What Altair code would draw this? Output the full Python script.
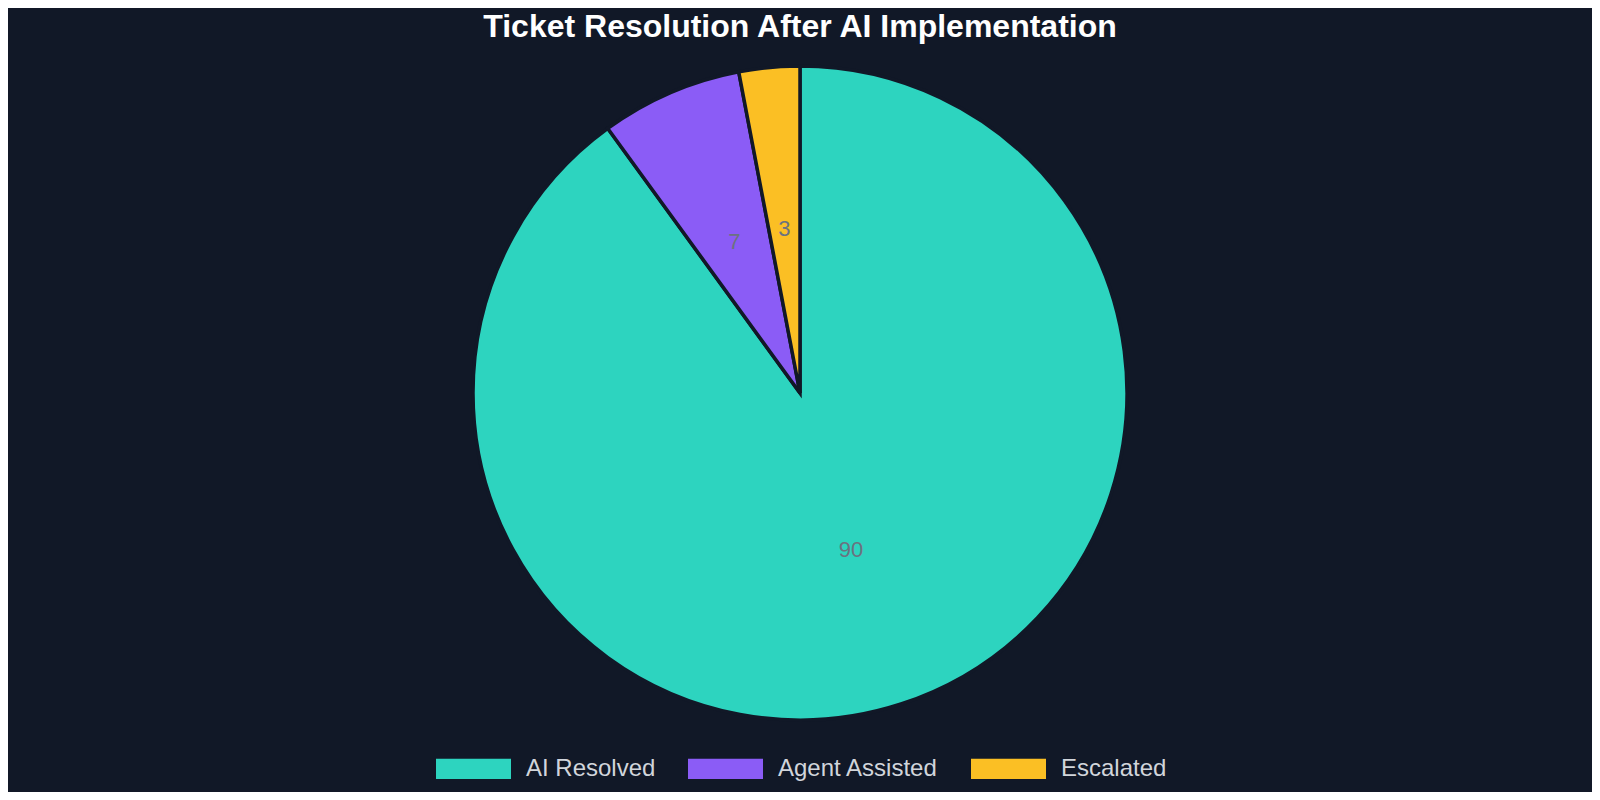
import altair as alt
import pandas as pd

categories = ["AI Resolved", "Agent Assisted", "Escalated"]
values = [90, 7, 3]
colors = ["#2dd4bf", "#8b5cf6", "#fbbf24"]
order_idx = [0, 1, 2]

df = pd.DataFrame({"category": categories, "value": values, "ord": order_idx})

FONT = "Liberation Sans, Arial, sans-serif"
CX, CY = 792, 340

base = alt.Chart(df).encode(
    theta=alt.Theta("value:Q", stack=True),
    order=alt.Order("ord:Q"),
)

arcs = base.mark_arc(outerRadius=327, stroke="#111827", strokeWidth=3.5).encode(
    x=alt.value(CX),
    y=alt.value(CY),
    color=alt.Color(
        "category:N",
        scale=alt.Scale(domain=categories, range=colors),
        sort=categories,
        legend=alt.Legend(
            title=None,
            orient="none",
            direction="horizontal",
            legendX=428,
            legendY=678,
            symbolType="M-1,-0.27L1,-0.27L1,0.27L-1,0.27Z",
            symbolSize=5625,
            symbolStrokeWidth=0,
            symbolOpacity=1,
            labelFontSize=24,
            labelFont=FONT,
            labelColor="#d1d5db",
            labelOffset=15,
            columnPadding=32,
            labelLimit=400,
        ),
    ),
)

labels = base.mark_text(radius=165, fontSize=22, font=FONT).encode(
    x=alt.value(CX),
    y=alt.value(CY),
    text=alt.Text("value:Q"),
    color=alt.value("#6b7280"),
)

chart = (
    alt.layer(arcs, labels)
    .properties(
        width=1584,
        height=739,
        padding={"top": 45, "left": 0, "right": 0, "bottom": 0},
        autosize=alt.AutoSizeParams(type="none"),
        background="#111827",
        title=alt.TitleParams(
            "Ticket Resolution After AI Implementation",
            fontSize=32,
            font=FONT,
            fontWeight="bold",
            color="#ffffff",
            anchor="middle",
            offset=9,
        ),
    )
    .configure_view(stroke=None)
)

chart.save("out.html", embed_options={"renderer": "svg", "actions": False})
